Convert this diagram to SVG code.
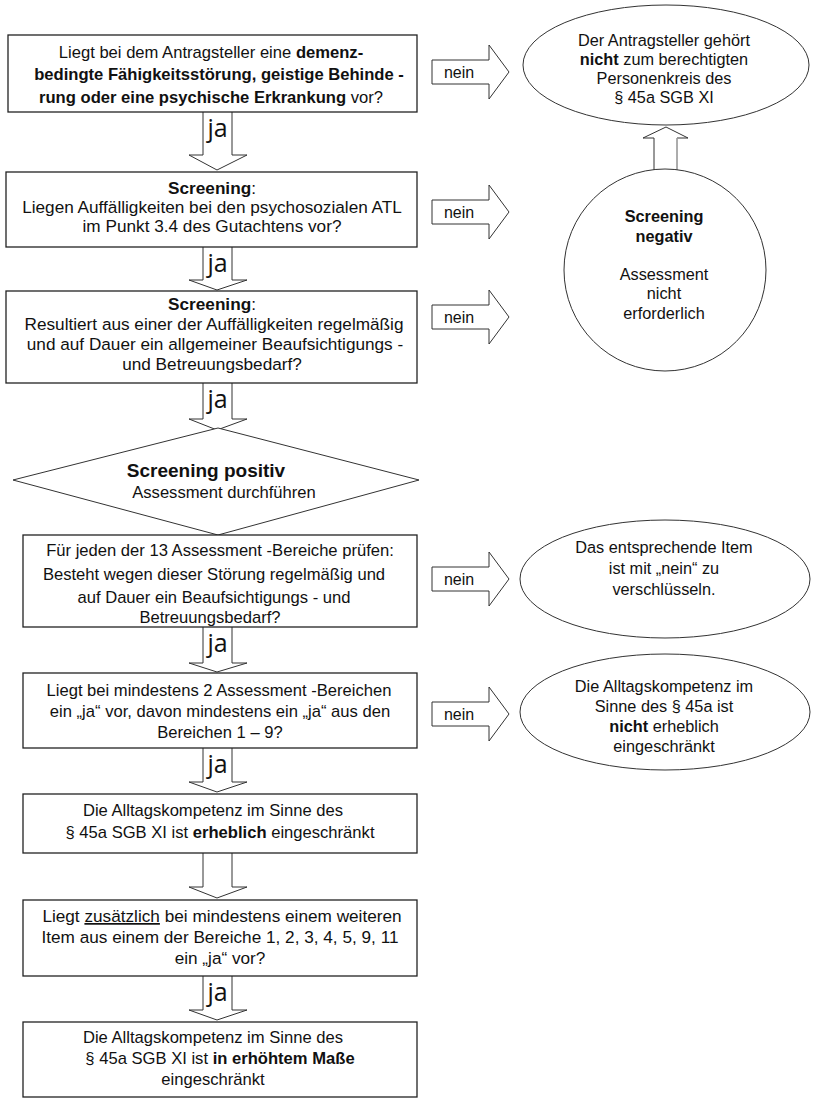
<svg xmlns="http://www.w3.org/2000/svg" width="814" height="1103" viewBox="0 0 814 1103">
<style>
text{font-family:"Liberation Sans",Arial,sans-serif;font-size:16.6px;fill:#111;text-anchor:middle}
.b{font-weight:bold}
.l{font-size:17.2px}
.e{font-size:16.3px}
.ja{font-family:"Open Sans","DejaVu Sans",sans-serif;font-size:25px;fill:#111}
.nein{font-size:16px}
.box{fill:#fff;stroke:#222;stroke-width:1.3}
.arr{fill:#fff;stroke:#333;stroke-width:1}
.sp{font-size:19px;font-weight:bold}
</style>
<rect width="814" height="1103" fill="#fff"/>

<g id="connectors">
  <polyline class="arr" points="203,112 203,155 189,155 217,170 247,155 232,155 232,112"/>
  <text class="ja" x="217.5" y="137">ja</text>
  <polyline class="arr" points="203,247 203,280 189,280 217,290 247,280 232,280 232,247"/>
  <text class="ja" x="217.5" y="272">ja</text>
  <polyline class="arr" points="203,383 203,419 189,419 217,430 247,419 232,419 232,383"/>
  <text class="ja" x="217.5" y="408">ja</text>
  <polyline class="arr" points="203,627 203,663 189,663 217,672 247,663 232,663 232,627"/>
  <text class="ja" x="217.5" y="652">ja</text>
  <polyline class="arr" points="203,748 203,782 189,782 217,792 247,782 232,782 232,748"/>
  <text class="ja" x="217.5" y="773">ja</text>
  <polyline class="arr" points="203,853 203,887 189,887 217,898 247,887 232,887 232,853"/>
  <polyline class="arr" points="203,976 203,1010 189,1010 217,1020 247,1010 232,1010 232,976"/>
  <text class="ja" x="217.5" y="1001">ja</text>

  <polygon class="arr" points="432,60 489,60 489,45 509,72 489,99 489,84 432,84"/>
  <text class="nein" x="459" y="77.5">nein</text>
  <polygon class="arr" points="432,200 489,200 489,185 509,212 489,239 489,224 432,224"/>
  <text class="nein" x="459" y="217.5">nein</text>
  <polygon class="arr" points="432,305 489,305 489,290 509,317 489,344 489,329 432,329"/>
  <text class="nein" x="459" y="322.5">nein</text>
  <polygon class="arr" points="432,567 489,567 489,552 509,579 489,606 489,591 432,591"/>
  <text class="nein" x="459" y="584.5">nein</text>
  <polygon class="arr" points="432,702 489,702 489,687 509,714 489,741 489,726 432,726"/>
  <text class="nein" x="459" y="719.5">nein</text>

  <polygon class="arr" points="654,172 654,138 643,138 666,127 688,138 677,138 677,172"/>
  <line x1="677" y1="138" x2="677" y2="172" stroke="#bbb" stroke-width="1.2"/>
</g>

<g id="n1">
  <rect class="box" x="8" y="35" width="409" height="77"/>
  <text x="211" y="58">Liegt bei dem Antragsteller eine <tspan class="b">demenz-</tspan></text>
  <text x="219" y="80" class="b">bedingte Fähigkeitsstörung, geistige Behinde -</text>
  <text x="211" y="103"><tspan class="b">rung oder eine psychische Erkrankung</tspan>  vor?</text>
</g>

<g id="n2">
  <rect class="box" x="6" y="172" width="411" height="75"/>
  <text class="l" x="212" y="194"><tspan class="b">Screening</tspan>:</text>
  <text class="l" x="212" y="213">Liegen Auffälligkeiten bei den psychosozialen ATL</text>
  <text class="l" x="212" y="232">im Punkt 3.4 des Gutachtens vor?</text>
</g>

<g id="n3">
  <rect class="box" x="6" y="291" width="411" height="92"/>
  <text class="l" x="212" y="310"><tspan class="b">Screening</tspan>:</text>
  <text class="l" x="214" y="330">Resultiert aus einer der Auffälligkeiten regelmäßig</text>
  <text class="l" x="215" y="350">und auf Dauer ein allgemeiner Beaufsichtigungs -</text>
  <text class="l" x="212" y="370">und Betreuungsbedarf?</text>
</g>

<g id="n4">
  <polygon class="arr" points="218,428 419,480 218,535 13,480" stroke="#333"/>
  <text class="sp" x="206" y="477">Screening positiv</text>
  <text x="224" y="498">Assessment durchführen</text>
</g>

<g id="n5">
  <rect class="box" x="23" y="535" width="394" height="92"/>
  <text x="220" y="556">Für jeden der 13 Assessment -Bereiche prüfen:</text>
  <text x="214" y="580">Besteht wegen dieser Störung regelmäßig und</text>
  <text x="214" y="603">auf Dauer ein Beaufsichtigungs - und</text>
  <text x="210" y="623">Betreuungsbedarf?</text>
</g>

<g id="n6">
  <rect class="box" x="23" y="673" width="394" height="75"/>
  <text x="219" y="696">Liegt bei mindestens 2 Assessment -Bereichen</text>
  <text x="220" y="717">ein „ja“ vor, davon mindestens ein „ja“  aus den</text>
  <text x="220" y="738">Bereichen 1 – 9?</text>
</g>

<g id="n7">
  <rect class="box" x="23" y="794" width="394" height="59"/>
  <text x="213" y="816">Die Alltagskompetenz im Sinne des</text>
  <text x="220" y="838">§ 45a SGB XI ist <tspan class="b">erheblich</tspan> eingeschränkt</text>
</g>

<g id="n8">
  <rect class="box" x="23" y="900" width="394" height="76"/>
  <text class="l" x="222" y="922">Liegt <tspan text-decoration="underline">zusätzlich</tspan> bei mindestens einem weiteren</text>
  <text class="l" x="220" y="943">Item aus einem der Bereiche 1, 2, 3, 4, 5, 9, 11</text>
  <text class="l" x="220" y="964">ein „ja“ vor?</text>
</g>

<g id="n9">
  <rect class="box" x="23" y="1022" width="394" height="75"/>
  <text x="213" y="1043">Die Alltagskompetenz im Sinne des</text>
  <text x="220" y="1064">§ 45a SGB XI ist <tspan class="b">in erhöhtem Maße</tspan></text>
  <text x="213" y="1085">eingeschränkt</text>
</g>

<g id="e1">
  <ellipse class="arr" cx="666" cy="65" rx="143" ry="60"/>
  <text class="e" x="664" y="46">Der Antragsteller gehört</text>
  <text class="e" x="664" y="65"><tspan class="b">nicht</tspan> zum berechtigten</text>
  <text class="e" x="664" y="84">Personenkreis des</text>
  <text class="e" x="664" y="103">§ 45a SGB XI</text>
</g>

<g id="e2">
  <circle class="arr" cx="665" cy="270" r="101"/>
  <text class="e b" x="664" y="222">Screening</text>
  <text class="e b" x="664" y="242">negativ</text>
  <text class="e" x="664" y="280">Assessment</text>
  <text class="e" x="664" y="299">nicht</text>
  <text class="e" x="664" y="319">erforderlich</text>
</g>

<g id="e3">
  <ellipse class="arr" cx="665" cy="579" rx="145" ry="59"/>
  <text class="e" x="664" y="553">Das entsprechende Item</text>
  <text class="e" x="664" y="574">ist mit „nein“ zu</text>
  <text class="e" x="664" y="595">verschlüsseln.</text>
</g>

<g id="e4">
  <ellipse class="arr" cx="665" cy="712" rx="145" ry="58"/>
  <text class="e" x="664" y="692">Die Alltagskompetenz im</text>
  <text class="e" x="664" y="712">Sinne des § 45a ist</text>
  <text class="e" x="664" y="732"><tspan class="b">nicht</tspan> erheblich</text>
  <text class="e" x="664" y="752">eingeschränkt</text>
</g>
</svg>
